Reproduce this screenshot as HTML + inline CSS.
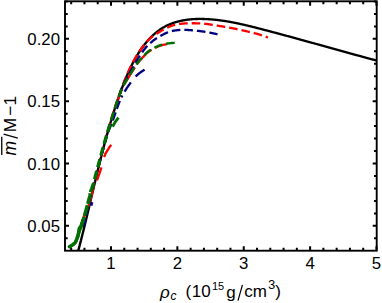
<!DOCTYPE html>
<html><head><meta charset="utf-8"><style>html,body{margin:0;padding:0;background:#fff}svg{display:block}text{font-family:"Liberation Sans",sans-serif;fill:#000}</style></head><body>
<svg width="382" height="303" viewBox="0 0 382 303">
<rect width="382" height="303" fill="#fff"/>
<defs><clipPath id="c"><rect x="65.00" y="1.30" width="311.70" height="249.40"/></clipPath></defs>
<g clip-path="url(#c)" fill="none" stroke-linejoin="round"><g transform="scale(1,0.9700)">
<path d="M78.29 258.35 L78.41 257.89 L78.53 257.43 L78.65 256.97 L78.77 256.50 L78.88 256.04 L79.00 255.58 L79.12 255.12 L79.24 254.66 L79.36 254.19 L79.47 253.73 L79.59 253.27 L79.71 252.81 L79.82 252.34 L79.94 251.88 L80.06 251.42 L80.17 250.96 L80.29 250.49 L80.40 250.03 L80.52 249.57 L80.63 249.11 L80.75 248.64 L80.86 248.18 L80.98 247.72 L81.09 247.25 L81.21 246.79 L81.32 246.33 L81.44 245.86 L81.55 245.40 L81.66 244.94 L81.78 244.47 L81.89 244.01 L82.00 243.55 L82.12 243.08 L82.23 242.62 L82.34 242.16 L82.45 241.69 L82.57 241.23 L82.68 240.77 L82.79 240.30 L82.90 239.84 L83.01 239.37 L83.13 238.91 L83.24 238.45 L83.35 237.98 L83.46 237.52 L83.57 237.05 L83.68 236.59 L83.79 236.12 L83.90 235.66 L84.02 235.20 L84.13 234.73 L84.24 234.27 L84.35 233.80 L84.46 233.34 L84.57 232.87 L84.68 232.41 L84.79 231.94 L84.90 231.48 L85.01 231.02 L85.12 230.55 L85.22 230.09 L85.33 229.62 L85.44 229.16 L85.55 228.69 L85.66 228.23 L85.77 227.76 L85.88 227.30 L85.99 226.83 L86.10 226.37 L86.20 225.90 L86.31 225.44 L86.42 224.97 L86.53 224.51 L86.64 224.04 L86.75 223.58 L86.85 223.11 L86.96 222.65 L87.07 222.18 L87.18 221.72 L87.28 221.25 L87.39 220.79 L87.50 220.32 L87.61 219.85 L87.72 219.39 L87.82 218.92 L87.93 218.46 L88.04 217.99 L88.14 217.53 L88.25 217.06 L88.36 216.60 L88.47 216.13 L88.57 215.67 L88.68 215.20 L88.79 214.73 L88.89 214.27 L89.00 213.80 L89.11 213.34 L89.21 212.87 L89.32 212.41 L89.43 211.94 L89.53 211.48 L89.64 211.01 L89.75 210.54 L89.85 210.08 L89.96 209.61 L90.07 209.15 L90.17 208.68 L90.28 208.22 L90.39 207.75 L90.49 207.28 L90.60 206.82 L90.70 206.35 L90.81 205.89 L90.92 205.42 L91.02 204.96 L91.13 204.49 L91.24 204.02 L91.34 203.56 L91.45 203.09 L91.56 202.63 L91.66 202.16 L91.77 201.70 L91.87 201.23 L91.98 200.76 L92.09 200.30 L92.19 199.83 L92.30 199.37 L92.41 198.90 L92.51 198.44 L92.62 197.97 L92.73 197.50 L92.83 197.04 L92.94 196.57 L93.05 196.11 L93.15 195.64 L93.26 195.18 L93.37 194.71 L93.47 194.25 L93.58 193.78 L93.69 193.31 L93.79 192.85 L93.90 192.38 L94.01 191.92 L94.11 191.45 L94.22 190.99 L94.33 190.52 L94.43 190.06 L94.54 189.59 L94.65 189.12 L94.76 188.66 L94.86 188.19 L94.97 187.73 L95.08 187.26 L95.19 186.80 L95.29 186.33 L95.40 185.87 L95.51 185.40 L95.62 184.94 L95.73 184.47 L95.83 184.01 L95.94 183.54 L96.05 183.08 L96.16 182.61 L96.27 182.15 L96.37 181.68 L96.48 181.22 L96.59 180.75 L96.70 180.29 L96.81 179.82 L96.92 179.36 L97.03 178.89 L97.14 178.43 L97.24 177.96 L97.35 177.50 L97.46 177.03 L97.57 176.57 L97.68 176.10 L97.79 175.64 L97.90 175.17 L98.01 174.71 L98.12 174.24 L98.23 173.78 L98.34 173.32 L98.45 172.85 L98.56 172.39 L98.67 171.92 L98.78 171.46 L98.89 170.99 L99.01 170.53 L99.12 170.07 L99.23 169.60 L99.34 169.14 L99.45 168.67 L99.56 168.21 L99.67 167.75 L99.79 167.28 L99.90 166.82 L100.01 166.35 L100.12 165.89 L100.24 165.43 L100.35 164.96 L100.46 164.50 L100.57 164.04 L100.69 163.57 L100.80 163.11 L100.91 162.65 L101.03 162.18 L101.14 161.72 L101.26 161.26 L101.37 160.79 L101.48 160.33 L101.60 159.87 L101.71 159.40 L101.83 158.94 L101.94 158.48 L102.06 158.01 L102.17 157.55 L102.29 157.09 L102.40 156.63 L102.52 156.16 L102.64 155.70 L102.75 155.24 L102.87 154.78 L102.99 154.31 L103.10 153.85 L103.22 153.39 L103.34 152.93 L103.45 152.46 L103.57 152.00 L103.69 151.54 L103.81 151.08 L103.93 150.62 L104.04 150.16 L104.16 149.69 L104.28 149.23 L104.40 148.77 L104.52 148.31 L104.64 147.85 L104.76 147.39 L104.88 146.92 L105.00 146.46 L105.12 146.00 L105.24 145.54 L105.36 145.08 L105.48 144.62 L105.61 144.16 L105.73 143.70 L105.85 143.24 L105.97 142.78 L106.09 142.32 L106.22 141.86 L106.34 141.40 L106.46 140.93 L106.58 140.47 L106.71 140.01 L106.83 139.55 L106.96 139.09 L107.08 138.63 L107.21 138.17 L107.33 137.72 L107.46 137.26 L107.58 136.80 L107.71 136.34 L107.83 135.88 L107.96 135.42 L108.09 134.96 L108.21 134.50 L108.34 134.04 L108.47 133.58 L108.59 133.12 L108.72 132.66 L108.85 132.21 L108.98 131.75 L109.11 131.29 L109.24 130.83 L109.37 130.37 L109.50 129.91 L109.62 129.46 L109.76 129.00 L109.89 128.54 L110.02 128.08 L110.15 127.62 L110.28 127.17 L110.41 126.71 L110.54 126.25 L110.67 125.79 L110.81 125.34 L110.94 124.88 L111.07 124.42 L111.21 123.97 L111.34 123.51 L111.48 123.05 L111.61 122.60 L111.74 122.14 L111.88 121.68 L112.02 121.23 L112.15 120.77 L112.29 120.31 L112.42 119.86 L112.56 119.40 L112.70 118.95 L112.84 118.49 L112.97 118.04 L113.11 117.58 L113.25 117.13 L113.39 116.67 L113.53 116.21 L113.67 115.76 L113.81 115.30 L113.95 114.85 L114.09 114.40 L114.23 113.94 L114.37 113.49 L114.51 113.03 L114.65 112.58 L114.80 112.12 L114.94 111.67 L115.08 111.22 L115.23 110.76 L115.37 110.31 L115.51 109.86 L115.66 109.40 L115.80 108.95 L115.95 108.50 L116.09 108.04 L116.24 107.59 L116.39 107.14 L116.53 106.69 L116.68 106.23 L116.83 105.78 L116.98 105.33 L117.13 104.88 L117.27 104.42 L117.42 103.97 L117.57 103.52 L117.72 103.07 L117.87 102.62 L118.03 102.17 L118.18 101.72 L118.33 101.26 L118.48 100.81 L118.63 100.36 L118.79 99.91 L118.94 99.46 L119.09 99.01 L119.25 98.56 L119.40 98.11 L119.56 97.66 L119.71 97.21 L119.87 96.76 L120.02 96.31 L120.18 95.86 L120.34 95.41 L120.50 94.96 L120.65 94.51 L120.81 94.07 L120.97 93.62 L121.13 93.17 L121.29 92.72 L121.45 92.27 L121.61 91.82 L121.77 91.38 L121.93 90.93 L122.10 90.48 L122.26 90.03 L122.42 89.59 L122.59 89.14 L122.75 88.69 L122.91 88.24 L123.08 87.80 L123.25 87.35 L123.41 86.91 L123.58 86.46 L123.75 86.01 L123.92 85.57 L124.08 85.12 L124.25 84.68 L124.42 84.23 L124.60 83.79 L124.77 83.35 L124.94 82.90 L125.11 82.46 L125.29 82.02 L125.46 81.57 L125.64 81.13 L125.81 80.69 L125.99 80.25 L126.17 79.80 L126.35 79.36 L126.53 78.92 L126.71 78.48 L126.89 78.04 L127.07 77.60 L127.25 77.16 L127.44 76.72 L127.62 76.28 L127.81 75.84 L128.00 75.41 L128.19 74.97 L128.37 74.53 L128.56 74.10 L128.75 73.66 L128.95 73.22 L129.14 72.79 L129.33 72.35 L129.53 71.92 L129.73 71.48 L129.92 71.05 L130.12 70.62 L130.32 70.18 L130.52 69.75 L130.72 69.32 L130.93 68.89 L131.13 68.46 L131.34 68.03 L131.54 67.60 L131.75 67.17 L131.96 66.74 L132.17 66.31 L132.38 65.89 L132.59 65.46 L132.81 65.03 L133.02 64.61 L133.24 64.18 L133.46 63.76 L133.68 63.33 L133.90 62.91 L134.12 62.49 L134.35 62.06 L134.57 61.64 L134.80 61.22 L135.02 60.80 L135.25 60.38 L135.48 59.96 L135.72 59.54 L135.95 59.12 L136.19 58.71 L136.42 58.29 L136.66 57.87 L136.90 57.46 L137.14 57.05 L137.38 56.63 L137.63 56.22 L137.88 55.81 L138.12 55.40 L138.37 54.99 L138.62 54.58 L138.87 54.17 L139.13 53.76 L139.38 53.36 L139.64 52.95 L139.90 52.55 L140.16 52.15 L140.42 51.74 L140.68 51.34 L140.95 50.95 L141.22 50.55 L141.48 50.15 L141.75 49.76 L142.03 49.36 L142.30 48.97 L142.57 48.58 L142.85 48.19 L143.13 47.80 L143.41 47.42 L143.69 47.03 L143.97 46.65 L144.26 46.27 L144.54 45.89 L144.83 45.51 L145.12 45.13 L145.41 44.76 L145.71 44.38 L146.00 44.01 L146.30 43.64 L146.60 43.28 L146.90 42.91 L147.20 42.55 L147.51 42.19 L147.81 41.83 L148.12 41.47 L148.43 41.11 L148.74 40.76 L149.05 40.41 L149.37 40.06 L149.68 39.71 L150.00 39.37 L150.32 39.03 L150.65 38.69 L150.97 38.35 L151.29 38.01 L151.62 37.68 L151.95 37.35 L152.28 37.02 L152.62 36.69 L152.95 36.37 L153.29 36.05 L153.63 35.73 L153.97 35.42 L154.31 35.10 L154.65 34.79 L155.00 34.49 L155.35 34.18 L155.70 33.88 L156.05 33.58 L156.41 33.28 L156.76 32.99 L157.12 32.70 L157.48 32.41 L157.84 32.13 L158.21 31.84 L158.57 31.56 L158.94 31.29 L159.31 31.02 L159.68 30.75 L160.05 30.48 L160.43 30.22 L160.81 29.96 L161.19 29.70 L161.57 29.44 L161.95 29.19 L162.34 28.95 L162.73 28.70 L163.12 28.46 L163.51 28.23 L163.90 27.99 L164.30 27.76 L164.70 27.54 L165.10 27.31 L165.50 27.09 L165.90 26.88 L166.31 26.66 L166.72 26.46 L167.13 26.25 L167.54 26.05 L167.96 25.85 L168.37 25.65 L168.79 25.46 L169.21 25.27 L169.63 25.09 L170.05 24.91 L170.48 24.73 L170.90 24.55 L171.33 24.38 L171.76 24.21 L172.19 24.05 L172.62 23.89 L173.06 23.73 L173.49 23.57 L173.93 23.42 L174.37 23.27 L174.81 23.13 L175.25 22.99 L175.69 22.85 L176.13 22.71 L176.58 22.58 L177.02 22.45 L177.47 22.32 L177.92 22.20 L178.37 22.08 L178.82 21.96 L179.27 21.84 L179.72 21.73 L180.17 21.62 L180.62 21.52 L181.08 21.42 L181.53 21.32 L181.99 21.22 L182.45 21.13 L182.91 21.04 L183.36 20.95 L183.82 20.87 L184.28 20.78 L184.74 20.70 L185.21 20.63 L185.67 20.55 L186.13 20.48 L186.59 20.42 L187.06 20.35 L187.52 20.29 L187.98 20.23 L188.45 20.17 L188.91 20.12 L189.38 20.07 L189.84 20.02 L190.31 19.97 L190.78 19.93 L191.24 19.89 L191.71 19.85 L192.18 19.81 L192.65 19.78 L193.11 19.74 L193.58 19.72 L194.05 19.69 L194.52 19.66 L194.99 19.64 L195.46 19.62 L195.92 19.60 L196.39 19.59 L196.86 19.57 L197.33 19.56 L197.80 19.55 L198.27 19.54 L198.74 19.54 L199.21 19.53 L199.68 19.53 L200.15 19.53 L200.62 19.53 L201.09 19.53 L201.55 19.54 L202.02 19.55 L202.49 19.56 L202.96 19.57 L203.43 19.58 L203.90 19.59 L204.37 19.61 L204.83 19.63 L205.30 19.65 L205.77 19.67 L206.24 19.69 L206.70 19.71 L207.17 19.74 L207.64 19.76 L208.10 19.79 L208.57 19.82 L209.03 19.85 L209.50 19.88 L209.96 19.91 L210.43 19.95 L210.89 19.99 L211.36 20.02 L211.82 20.06 L212.28 20.10 L212.75 20.14 L213.21 20.19 L213.67 20.23 L214.14 20.28 L214.60 20.32 L215.06 20.37 L215.52 20.42 L215.98 20.47 L216.45 20.52 L216.91 20.58 L217.37 20.63 L217.83 20.69 L218.29 20.74 L218.75 20.80 L219.21 20.86 L219.67 20.92 L220.13 20.98 L220.59 21.05 L221.05 21.11 L221.51 21.17 L221.96 21.24 L222.42 21.31 L222.88 21.38 L223.34 21.44 L223.80 21.52 L224.26 21.59 L224.71 21.66 L225.17 21.73 L225.63 21.81 L226.08 21.88 L226.54 21.96 L227.00 22.04 L227.45 22.12 L227.91 22.20 L228.37 22.28 L228.82 22.36 L229.28 22.44 L229.73 22.52 L230.19 22.61 L230.64 22.69 L231.10 22.78 L231.55 22.87 L232.01 22.95 L232.46 23.04 L232.92 23.13 L233.37 23.22 L233.82 23.31 L234.28 23.40 L234.73 23.50 L235.19 23.59 L235.64 23.69 L236.09 23.78 L236.55 23.88 L237.00 23.97 L237.45 24.07 L237.90 24.17 L238.36 24.27 L238.81 24.37 L239.26 24.47 L239.71 24.57 L240.17 24.67 L240.62 24.77 L241.07 24.87 L241.52 24.98 L241.97 25.08 L242.42 25.19 L242.88 25.29 L243.33 25.40 L243.78 25.50 L244.23 25.61 L244.68 25.72 L245.13 25.83 L245.58 25.93 L246.03 26.04 L246.48 26.15 L246.93 26.26 L247.38 26.37 L247.83 26.48 L248.28 26.60 L248.73 26.71 L249.18 26.82 L249.63 26.93 L250.08 27.05 L250.53 27.16 L250.98 27.27 L251.43 27.39 L251.88 27.50 L252.33 27.62 L252.78 27.73 L253.23 27.85 L253.68 27.97 L254.13 28.08 L254.58 28.20 L255.03 28.32 L255.47 28.43 L255.92 28.55 L256.37 28.67 L256.82 28.79 L257.27 28.91 L257.72 29.03 L258.17 29.14 L258.62 29.26 L259.06 29.38 L259.51 29.50 L259.96 29.62 L260.41 29.74 L260.86 29.86 L261.31 29.98 L261.76 30.10 L262.20 30.22 L262.65 30.34 L263.10 30.46 L263.55 30.58 L264.00 30.70 L264.45 30.82 L264.89 30.95 L265.34 31.07 L265.79 31.19 L266.24 31.31 L266.69 31.43 L267.13 31.55 L267.58 31.67 L268.03 31.79 L268.48 31.92 L268.93 32.04 L269.37 32.16 L269.82 32.28 L270.27 32.40 L270.72 32.53 L271.17 32.65 L271.61 32.77 L272.06 32.89 L272.51 33.02 L272.96 33.14 L273.41 33.26 L273.85 33.38 L274.30 33.51 L274.75 33.63 L275.20 33.75 L275.65 33.88 L276.09 34.00 L276.54 34.12 L276.99 34.25 L277.44 34.37 L277.88 34.49 L278.33 34.62 L278.78 34.74 L279.23 34.87 L279.67 34.99 L280.12 35.11 L280.57 35.24 L281.02 35.36 L281.46 35.49 L281.91 35.61 L282.36 35.74 L282.81 35.86 L283.25 35.98 L283.70 36.11 L284.15 36.23 L284.60 36.36 L285.04 36.48 L285.49 36.61 L285.94 36.73 L286.39 36.86 L286.83 36.98 L287.28 37.11 L287.73 37.23 L288.18 37.36 L288.62 37.49 L289.07 37.61 L289.52 37.74 L289.96 37.86 L290.41 37.99 L290.86 38.11 L291.31 38.24 L291.75 38.36 L292.20 38.49 L292.65 38.62 L293.10 38.74 L293.54 38.87 L293.99 39.00 L294.44 39.12 L294.88 39.25 L295.33 39.37 L295.78 39.50 L296.23 39.63 L296.67 39.75 L297.12 39.88 L297.57 40.01 L298.01 40.13 L298.46 40.26 L298.91 40.39 L299.35 40.51 L299.80 40.64 L300.25 40.77 L300.70 40.89 L301.14 41.02 L301.59 41.15 L302.04 41.27 L302.48 41.40 L302.93 41.53 L303.38 41.66 L303.82 41.78 L304.27 41.91 L304.72 42.04 L305.17 42.16 L305.61 42.29 L306.06 42.42 L306.51 42.55 L306.95 42.67 L307.40 42.80 L307.85 42.93 L308.29 43.06 L308.74 43.18 L309.19 43.31 L309.63 43.44 L310.08 43.57 L310.53 43.69 L310.98 43.82 L311.42 43.95 L311.87 44.08 L312.32 44.21 L312.76 44.33 L313.21 44.46 L313.66 44.59 L314.10 44.72 L314.55 44.84 L315.00 44.97 L315.44 45.10 L315.89 45.23 L316.34 45.36 L316.78 45.48 L317.23 45.61 L317.68 45.74 L318.12 45.87 L318.57 46.00 L319.02 46.12 L319.47 46.25 L319.91 46.38 L320.36 46.51 L320.81 46.64 L321.25 46.76 L321.70 46.89 L322.15 47.02 L322.59 47.15 L323.04 47.28 L323.49 47.40 L323.93 47.53 L324.38 47.66 L324.83 47.79 L325.27 47.92 L325.72 48.04 L326.17 48.17 L326.61 48.30 L327.06 48.43 L327.51 48.56 L327.95 48.69 L328.40 48.81 L328.85 48.94 L329.29 49.07 L329.74 49.20 L330.19 49.33 L330.64 49.45 L331.08 49.58 L331.53 49.71 L331.98 49.84 L332.42 49.97 L332.87 50.09 L333.32 50.22 L333.76 50.35 L334.21 50.48 L334.66 50.61 L335.10 50.73 L335.55 50.86 L336.00 50.99 L336.44 51.12 L336.89 51.25 L337.34 51.37 L337.79 51.50 L338.23 51.63 L338.68 51.76 L339.13 51.88 L339.57 52.01 L340.02 52.14 L340.47 52.27 L340.91 52.40 L341.36 52.52 L341.81 52.65 L342.25 52.78 L342.70 52.91 L343.15 53.03 L343.60 53.16 L344.04 53.29 L344.49 53.42 L344.94 53.54 L345.38 53.67 L345.83 53.80 L346.28 53.92 L346.72 54.05 L347.17 54.18 L347.62 54.31 L348.07 54.43 L348.51 54.56 L348.96 54.69 L349.41 54.81 L349.85 54.94 L350.30 55.07 L350.75 55.20 L351.20 55.32 L351.64 55.45 L352.09 55.58 L352.54 55.70 L352.98 55.83 L353.43 55.96 L353.88 56.08 L354.33 56.21 L354.77 56.34 L355.22 56.46 L355.67 56.59 L356.11 56.71 L356.56 56.84 L357.01 56.97 L357.46 57.09 L357.90 57.22 L358.35 57.35 L358.80 57.47 L359.25 57.60 L359.69 57.72 L360.14 57.85 L360.59 57.98 L361.04 58.10 L361.48 58.23 L361.93 58.35 L362.38 58.48 L362.83 58.60 L363.27 58.73 L363.72 58.85 L364.17 58.98 L364.62 59.10 L365.06 59.23 L365.51 59.35 L365.96 59.48 L366.41 59.60 L366.85 59.73 L367.30 59.85 L367.75 59.98 L368.20 60.10 L368.64 60.23 L369.09 60.35 L369.54 60.48 L369.99 60.60 L370.44 60.73 L370.88 60.85 L371.33 60.97 L371.78 61.10 L372.23 61.22 L372.67 61.35 L373.12 61.47 L373.57 61.59 L374.02 61.72 L374.47 61.84 L374.91 61.96 L375.36 62.09 L375.81 62.21 L376.26 62.33 L376.71 62.46" stroke="#000" stroke-width="2.40"/>
<path d="M79.81 236.03 L80.36 234.43 L80.90 232.83 L81.45 231.23 L81.98 229.61 L82.48 227.99 L82.97 226.37 L83.45 224.74 L83.92 223.11 L84.59 221.47 L85.30 219.83 L85.99 218.18 L86.67 216.53 L87.33 214.88 L87.97 213.22 L88.59 211.56 L89.20 209.91 L89.67 208.24 L90.06 206.58 L90.44 204.92 L90.83 203.26 L91.21 201.59 L91.58 199.93 L91.95 198.27 L92.34 196.61 L92.74 194.95 L93.14 193.30 L93.56 191.64 L93.96 189.99 L94.36 188.34 L94.75 186.70 L95.13 185.06 L95.51 183.42 L95.89 181.79 L96.28 180.16 L96.66 178.54 L97.05 176.93 L97.43 175.32 L97.82 173.71 L98.21 172.11 L98.59 170.52 L98.98 168.94 L99.37 167.36 L99.75 165.79 L100.14 164.23 L100.52 162.68 L100.91 161.13 L101.29 159.59 L101.67 158.06 L102.06 156.54 L102.44 155.03 L102.82 153.53 L103.20 152.03 L103.59 150.55 L103.97 149.07 L104.35 147.60 L104.73 146.15 L105.12 144.70 L105.50 143.26 L105.88 141.83 L106.27 140.41 L106.65 139.00 L107.03 137.60 L107.42 136.21 L107.80 134.83 L108.19 133.46 L108.57 132.10 L108.95 130.74 L109.33 129.40 L109.72 128.07 L110.10 126.75 L110.48 125.43 L110.86 124.13 L111.24 122.84 L111.62 121.55 L112.00 120.28 L112.38 119.01 L112.76 117.75 L113.14 116.51 L113.52 115.27 L113.90 114.04 L114.28 112.82 L114.66 111.61 L115.04 110.41 L115.42 109.22 L115.80 108.04 L116.18 106.86 L116.56 105.70 L116.94 104.54 L117.32 103.40 L117.69 102.26" stroke="#ff0000" stroke-width="2.40" stroke-dasharray="8.6 4.0" stroke-dashoffset="9.35"/>
<path d="M117.69 102.26 L118.07 101.13 L118.45 100.00 L118.83 98.89 L119.21 97.78 L119.59 96.69 L119.97 95.60 L120.35 94.52 L120.73 93.44 L121.11 92.38 L121.49 91.32 L121.87 90.27 L122.25 89.23 L122.63 88.20 L123.01 87.17 L123.39 86.16 L123.77 85.16 L124.15 84.17 L124.53 83.18 L124.91 82.21 L125.29 81.25 L125.67 80.30 L126.05 79.36 L126.43 78.43 L126.81 77.51 L127.19 76.60 L127.57 75.71 L127.95 74.82 L128.33 73.95 L128.71 73.09 L129.09 72.23 L129.47 71.39 L129.85 70.56 L130.23 69.74 L130.61 68.93 L130.99 68.13 L131.37 67.34 L131.75 66.56 L132.13 65.80 L132.51 65.04 L132.89 64.29 L133.27 63.55 L133.64 62.82 L134.02 62.10 L134.40 61.39 L134.78 60.69 L135.16 60.00 L135.54 59.32 L135.92 58.64 L136.30 57.98 L136.68 57.32 L137.06 56.67 L137.44 56.03 L137.82 55.40 L138.20 54.77 L138.58 54.16 L138.96 53.55 L139.34 52.95 L139.72 52.36 L140.11 51.78 L140.49 51.20 L140.88 50.64 L141.26 50.09 L141.65 49.54 L142.03 49.01 L142.42 48.48 L142.81 47.96 L143.19 47.45 L143.58 46.95 L143.96 46.46 L144.35 45.98 L144.73 45.50 L145.12 45.04 L145.50 44.58 L145.89 44.12 L146.27 43.68 L146.66 43.24 L147.05 42.81 L147.43 42.39 L147.82 41.97 L148.20 41.56 L148.59 41.16 L148.97 40.76 L149.36 40.37 L149.74 39.99 L150.13 39.61 L150.51 39.24 L150.90 38.89 L151.29 38.55 L151.67 38.22 L152.06 37.90 L152.44 37.59 L152.83 37.29 L153.21 37.00 L153.60 36.72 L153.98 36.44 L154.37 36.18 L154.75 35.91 L155.14 35.66 L155.53 35.41 L155.91 35.16 L156.30 34.92 L156.68 34.68 L157.07 34.44 L157.45 34.21 L157.84 33.97 L158.22 33.73 L158.61 33.50 L158.99 33.26 L159.38 33.02 L159.77 32.78 L160.15 32.54 L160.53 32.29 L160.91 32.04 L161.29 31.80 L161.67 31.56 L162.05 31.32 L162.43 31.09 L162.81 30.86 L163.19 30.64 L163.57 30.41 L163.95 30.20 L164.33 29.98 L164.71 29.77 L165.09 29.57 L165.46 29.37 L165.84 29.17 L166.22 28.98 L166.60 28.79 L166.98 28.60 L167.36 28.42 L167.74 28.24 L168.12 28.06 L168.50 27.89 L168.88 27.72 L169.26 27.56 L169.64 27.40 L170.02 27.24 L170.40 27.09 L170.78 26.94 L171.16 26.80 L171.54 26.66 L171.92 26.52 L172.30 26.39 L172.68 26.26 L173.06 26.14 L173.44 26.02 L173.82 25.91 L174.20 25.80 L174.58 25.70 L174.96 25.60 L175.34 25.51 L175.72 25.42 L176.10 25.33 L176.48 25.25 L176.86 25.17 L177.24 25.10 L177.62 25.03 L178.00 24.96 L178.38 24.90 L178.76 24.84 L179.14 24.78 L179.52 24.73 L179.90 24.68 L180.28 24.63 L180.66 24.58 L181.04 24.53 L181.41 24.49 L181.79 24.45 L182.17 24.41 L182.55 24.37 L182.93 24.33 L183.31 24.29 L183.69 24.26 L184.07 24.22 L184.45 24.19 L184.83 24.16 L185.21 24.13 L185.59 24.10 L185.97 24.08 L186.35 24.05 L186.73 24.03 L187.11 24.01 L187.49 24.00 L187.87 23.98 L188.25 23.97 L188.63 23.96 L189.01 23.95 L189.39 23.94 L189.77 23.94 L190.15 23.93 L190.53 23.93 L190.91 23.93 L191.29 23.93 L191.67 23.93 L192.05 23.93 L192.43 23.93 L192.81 23.94 L193.19 23.94 L193.57 23.95 L193.95 23.96 L194.33 23.96 L194.71 23.97 L195.09 23.98 L195.47 23.99 L195.85 24.01 L196.23 24.02 L196.61 24.03 L196.98 24.04 L197.36 24.06 L197.74 24.07 L198.12 24.09 L198.50 24.10 L198.88 24.12 L199.26 24.13 L199.64 24.15 L200.02 24.17 L200.40 24.19 L200.78 24.21 L201.16 24.23 L201.54 24.26 L201.92 24.28 L202.30 24.30 L202.68 24.33 L203.06 24.36 L203.44 24.39 L203.82 24.42 L204.20 24.45 L204.58 24.49 L204.96 24.52 L205.34 24.56 L205.72 24.60 L206.10 24.64 L206.48 24.68 L206.86 24.73 L207.24 24.77 L207.62 24.82 L208.00 24.88 L208.38 24.94 L208.76 25.00 L209.14 25.07 L209.52 25.13 L209.90 25.20 L210.28 25.27 L210.66 25.35 L211.04 25.42 L211.42 25.49 L211.80 25.57 L212.18 25.64 L212.56 25.72 L212.93 25.79 L213.31 25.86 L213.69 25.93 L214.07 26.00 L214.45 26.07 L214.83 26.13 L215.21 26.19 L215.59 26.25 L215.97 26.30 L216.35 26.35 L216.73 26.40 L217.11 26.46 L217.49 26.51 L217.87 26.56 L218.25 26.62 L218.63 26.68 L219.01 26.73 L219.39 26.79 L219.77 26.85 L220.15 26.91 L220.53 26.96 L220.91 27.02 L221.29 27.08 L221.67 27.15 L222.05 27.21 L222.43 27.27 L222.81 27.33 L223.19 27.40 L223.57 27.46 L223.95 27.52 L224.33 27.59 L224.71 27.65 L225.09 27.72 L225.47 27.79 L225.85 27.85 L226.23 27.92 L226.61 27.99 L226.99 28.06 L227.37 28.13 L227.75 28.20 L228.13 28.27 L228.51 28.34 L228.88 28.41 L229.26 28.48 L229.64 28.56 L230.02 28.63 L230.40 28.70 L230.78 28.78 L231.16 28.85 L231.54 28.93 L231.92 29.00 L232.30 29.08 L232.68 29.15 L233.06 29.23 L233.44 29.31 L233.82 29.38 L234.20 29.46 L234.58 29.54 L234.96 29.62 L235.34 29.70 L235.72 29.78 L236.10 29.86 L236.48 29.94 L236.86 30.02 L237.24 30.10 L237.62 30.18 L238.00 30.26 L238.38 30.35 L238.76 30.43 L239.14 30.51 L239.52 30.60 L239.90 30.68 L240.28 30.76 L240.66 30.85 L241.04 30.94 L241.42 31.02 L241.80 31.11 L242.18 31.20 L242.56 31.28 L242.94 31.37 L243.32 31.46 L243.70 31.55 L244.08 31.64 L244.45 31.73 L244.83 31.82 L245.21 31.91 L245.59 32.00 L245.97 32.09 L246.35 32.18 L246.73 32.27 L247.11 32.36 L247.49 32.46 L247.87 32.55 L248.25 32.64 L248.63 32.74 L249.01 32.83 L249.39 32.92 L249.77 33.02 L250.15 33.11 L250.53 33.21 L250.91 33.30 L251.29 33.40 L251.67 33.50 L252.05 33.59 L252.43 33.69 L252.81 33.79 L253.19 33.88 L253.57 33.98 L253.95 34.08 L254.33 34.18 L254.71 34.28 L255.09 34.38 L255.47 34.48 L255.85 34.57 L256.23 34.68 L256.61 34.78 L256.99 34.89 L257.37 35.00 L257.75 35.11 L258.13 35.22 L258.51 35.34 L258.89 35.46 L259.27 35.58 L259.65 35.70 L260.03 35.82 L260.40 35.95 L260.78 36.08 L261.16 36.20 L261.54 36.33 L261.92 36.47 L262.30 36.60 L262.68 36.73 L263.06 36.87 L263.44 37.00 L263.82 37.14 L264.20 37.27 L264.58 37.41 L264.96 37.55 L265.34 37.69 L265.72 37.83 L266.10 37.96 L266.48 38.10 L266.86 38.24 L267.24 38.38 L267.62 38.52 L268.00 38.66" stroke="#ff0000" stroke-width="2.40" stroke-dasharray="8.6 4.0" stroke-dashoffset="9.26"/>
<path d="M79.82 236.00 L80.25 234.76 L80.68 233.51 L81.10 232.27 L81.52 231.01 L81.94 229.76 L82.33 228.50 L82.72 227.23 L83.09 225.97 L83.47 224.70 L83.84 223.43 L84.29 222.15 L84.85 220.87 L85.41 219.59 L85.95 218.31 L86.47 217.03 L86.99 215.74 L87.50 214.45 L88.00 213.17 L88.49 211.88 L88.96 210.58 L89.44 209.29 L89.74 208.00 L90.04 206.71 L90.34 205.41 L90.64 204.12 L90.94 202.82 L91.23 201.53 L91.52 200.24 L91.81 198.94 L92.11 197.65 L92.41 196.36 L92.72 195.07 L93.04 193.78 L93.36 192.49 L93.68 191.21 L94.00 189.92 L94.31 188.64 L94.61 187.36 L94.91 186.08 L95.21 184.81 L95.51 183.53 L95.80 182.26 L96.10 181.00 L96.40 179.73 L96.70 178.47 L97.00 177.22 L97.30 175.96 L97.60 174.71 L97.90 173.47 L98.21 172.23 L98.51 170.99 L98.81 169.76 L99.11 168.53 L99.41 167.30 L99.71 166.08 L100.02 164.87 L100.32 163.66 L100.63 162.45 L100.93 161.25 L101.23 160.05 L101.54 158.86 L101.84 157.68 L102.15 156.50 L102.45 155.32 L102.75 154.15 L103.06 152.99 L103.36 151.83 L103.66 150.68 L103.97 149.53 L104.27 148.39 L104.57 147.25 L104.87 146.12 L105.18 145.00 L105.48 143.88 L105.79 142.77 L106.09 141.66 L106.39 140.56 L106.70 139.47 L107.00 138.38 L107.31 137.29 L107.61 136.22 L107.91 135.15 L108.22 134.08 L108.52 133.02 L108.82 131.97 L109.13 130.92 L109.43 129.88 L109.73 128.84 L110.04 127.82 L110.34 126.79 L110.64 125.77 L110.94 124.76 L111.24 123.76 L111.54 122.76 L111.85 121.76 L112.15 120.77 L112.45 119.79 L112.75 118.82 L113.05 117.85 L113.35 116.88 L113.65 115.92 L113.95 114.97 L114.25 114.02 L114.55 113.08 L114.85 112.14 L115.16 111.21 L115.46 110.28 L115.76 109.36 L116.06 108.45 L116.36 107.54 L116.66 106.64 L116.96 105.74 L117.26 104.85 L117.56 103.96 L117.86 103.08" stroke="#ff0000" stroke-width="2.40" stroke-dasharray="8.6 4.0" stroke-dashoffset="8.74"/>
<path d="M117.86 103.08 L118.16 102.20 L118.46 101.33 L118.75 100.46 L119.05 99.60 L119.35 98.74 L119.64 97.89 L119.94 97.05 L120.23 96.20 L120.53 95.37 L120.83 94.54 L121.12 93.71 L121.42 92.93 L121.71 92.20 L122.01 91.51 L122.31 90.85 L122.60 90.22 L122.90 89.63 L123.19 89.05 L123.49 88.50 L123.79 87.96 L124.08 87.43 L124.38 86.90 L124.67 86.37 L124.97 85.84 L125.27 85.30 L125.56 84.75 L125.86 84.21 L126.15 83.69 L126.45 83.17 L126.75 82.67 L127.04 82.17 L127.34 81.68 L127.63 81.19 L127.93 80.70 L128.23 80.21 L128.52 79.73 L128.82 79.24 L129.11 78.74 L129.41 78.24 L129.71 77.75 L130.00 77.26 L130.30 76.78 L130.59 76.29 L130.89 75.81 L131.19 75.34 L131.48 74.86 L131.78 74.39 L132.07 73.91 L132.37 73.44 L132.67 72.97 L132.96 72.50 L133.26 72.03 L133.55 71.55 L133.85 71.08 L134.15 70.61 L134.44 70.14 L134.74 69.67 L135.03 69.21 L135.33 68.75 L135.63 68.29 L135.92 67.83 L136.22 67.38 L136.51 66.94 L136.81 66.50 L137.11 66.06 L137.40 65.63 L137.70 65.21 L137.99 64.80 L138.29 64.39 L138.59 63.99 L138.88 63.61 L139.18 63.23 L139.47 62.86 L139.77 62.50 L140.07 62.14 L140.36 61.80 L140.66 61.45 L140.95 61.12 L141.25 60.79 L141.55 60.46 L141.84 60.14 L142.14 59.81 L142.43 59.49 L142.73 59.17 L143.03 58.85 L143.32 58.53 L143.62 58.21 L143.91 57.89 L144.21 57.57 L144.51 57.25 L144.80 56.94 L145.10 56.62 L145.39 56.31 L145.69 56.00 L145.98 55.70 L146.28 55.40 L146.58 55.11 L146.87 54.82 L147.17 54.54 L147.46 54.27 L147.76 54.00 L148.06 53.75 L148.35 53.50 L148.65 53.27 L148.94 53.05 L149.24 52.83 L149.54 52.63 L149.83 52.43 L150.13 52.24 L150.42 52.05 L150.72 51.87 L151.02 51.70 L151.31 51.53 L151.61 51.36 L151.90 51.19 L152.20 51.03 L152.50 50.86 L152.79 50.70 L153.09 50.53 L153.38 50.36 L153.68 50.20 L153.98 50.03 L154.27 49.86 L154.57 49.70 L154.86 49.54 L155.16 49.38 L155.46 49.22 L155.75 49.06 L156.05 48.91 L156.34 48.76 L156.64 48.61 L156.94 48.47 L157.23 48.33 L157.53 48.19 L157.82 48.06 L158.12 47.93 L158.42 47.81 L158.71 47.69 L159.01 47.57 L159.30 47.46 L159.60 47.35 L159.90 47.25 L160.19 47.15 L160.49 47.05 L160.78 46.96 L161.08 46.87 L161.38 46.78 L161.67 46.69 L161.97 46.61 L162.26 46.53 L162.56 46.45 L162.86 46.38 L163.15 46.30 L163.45 46.23 L163.74 46.16 L164.04 46.09 L164.34 46.02 L164.63 45.96 L164.93 45.89 L165.22 45.83 L165.52 45.77 L165.82 45.71 L166.11 45.65 L166.41 45.59 L166.70 45.54 L167.00 45.48" stroke="#ff0000" stroke-width="2.40" stroke-dasharray="21.0 4.0" stroke-dashoffset="8.27"/>
<path d="M79.64 236.51 L79.72 236.28 L79.80 236.05 L79.88 235.82 L79.96 235.59 L80.04 235.36 L80.12 235.13 L80.20 234.90 L80.28 234.67 L80.36 234.44 L80.43 234.21 L80.51 233.98 L80.59 233.75 L80.67 233.52 L80.75 233.29 L80.83 233.06 L80.91 232.83 L80.98 232.59 L81.06 232.36 L81.14 232.13 L81.22 231.90 L81.30 231.67 L81.38 231.44 L81.46 231.20 L81.53 230.97 L81.61 230.74 L81.69 230.51 L81.76 230.27 L81.84 230.04 L81.91 229.81 L81.99 229.57 L82.06 229.34 L82.14 229.11 L82.21 228.87 L82.28 228.64 L82.35 228.41 L82.42 228.17 L82.50 227.94 L82.57 227.71 L82.64 227.47 L82.71 227.24 L82.78 227.00 L82.85 226.77 L82.92 226.54 L82.99 226.30 L83.06 226.07 L83.13 225.83 L83.20 225.60 L83.27 225.36 L83.34 225.13 L83.40 224.89 L83.47 224.66 L83.54 224.42 L83.61 224.19 L83.68 223.95 L83.75 223.71 L83.82 223.48 L83.88 223.24 L83.95 223.01 L84.02 222.77 L84.11 222.53 L84.22 222.30 L84.32 222.06 L84.43 221.83 L84.53 221.59 L84.64 221.35 L84.74 221.12 L84.84 220.88 L84.95 220.64 L85.05 220.41 L85.15 220.17 L85.25 219.93 L85.35 219.69 L85.46 219.46 L85.56 219.22 L85.66 218.98 L85.76 218.74 L85.86 218.51 L85.95 218.27 L86.05 218.03 L86.15 217.79 L86.25 217.56 L86.35 217.32 L86.44 217.08 L86.54 216.84 L86.64 216.60 L86.73 216.37 L86.83 216.13 L86.93 215.89 L87.02 215.65 L87.12 215.41 L87.21 215.18 L87.30 214.94 L87.40 214.70 L87.49 214.46 L87.58 214.22 L87.68 213.98 L87.77 213.74 L87.87 213.51 L87.96 213.27 L88.06 213.03 L88.15 212.79 L88.25 212.55 L88.34 212.31 L88.44 212.07 L88.53 211.83 L88.62 211.59 L88.72 211.35 L88.81 211.12 L88.90 210.88 L89.00 210.64 L89.09 210.40 L89.18 210.16 L89.27 209.92 L89.36 209.68 L89.46 209.44 L89.54 209.20 L89.59 208.96 L89.65 208.72 L89.71 208.48 L89.77 208.24 L89.83 208.00 L89.89 207.76 L89.95 207.52 L90.00 207.28 L90.06 207.04 L90.12 206.80 L90.18 206.57 L90.24 206.33 L90.30 206.09 L90.36 205.85 L90.41 205.61 L90.47 205.37 L90.53 205.13 L90.59 204.89 L90.65 204.65 L90.70 204.41 L90.76 204.17 L90.82 203.93 L90.88 203.69 L90.94 203.45 L90.99 203.21 L91.05 202.97 L91.11 202.73 L91.17 202.49 L91.22 202.25 L91.28 202.01 L91.34 201.77 L91.40 201.53 L91.45 201.29 L91.51 201.05 L91.57 200.81 L91.62 200.57 L91.68 200.33 L91.73 200.09 L91.79 199.85 L91.85 199.61 L91.90 199.37 L91.96 199.13 L92.02 198.89 L92.07 198.65 L92.13 198.42 L92.19 198.18 L92.24 197.94 L92.30 197.70 L92.36 197.46 L92.42 197.22 L92.48 196.98 L92.54 196.74 L92.60 196.50 L92.66 196.26 L92.72 196.03 L92.78 195.80 L92.84 195.57 L92.90 195.35 L92.96 195.13 L93.02 194.92 L93.08 194.72 L93.14 194.51 L93.20 194.32 L93.26 194.12 L93.32 193.93 L93.38 193.75 L93.45 193.57 L93.51 193.39 L93.57 193.21 L93.63 193.04 L93.69 192.88 L93.75 192.71 L93.81 192.55 L93.87 192.40 L93.93 192.24 L93.99 192.09 L94.05 191.95 L94.11 191.80" stroke="#ff0000" stroke-width="2.40" stroke-dasharray="8.6 4.0" stroke-dashoffset="1.32"/>
<path d="M96.90 185.97 L96.96 185.83 L97.01 185.70 L97.07 185.56 L97.12 185.42 L97.18 185.27 L97.23 185.12 L97.29 184.97 L97.34 184.82 L97.40 184.66 L97.45 184.51 L97.51 184.35 L97.56 184.19 L97.62 184.03 L97.67 183.87 L97.73 183.71 L97.78 183.55 L97.84 183.39 L97.89 183.24 L97.95 183.08 L98.00 182.92 L98.06 182.76 L98.11 182.61 L98.17 182.45 L98.22 182.29 L98.28 182.14 L98.33 181.98 L98.39 181.82 L98.44 181.67 L98.50 181.51 L98.55 181.35 L98.61 181.19 L98.66 181.04 L98.72 180.88 L98.77 180.72 L98.83 180.56 L98.88 180.40 L98.94 180.25 L98.99 180.09 L99.05 179.93 L99.10 179.77 L99.16 179.61 L99.21 179.45 L99.27 179.28 L99.32 179.12 L99.38 178.96 L99.43 178.79 L99.49 178.63 L99.54 178.47 L99.60 178.30 L99.65 178.13 L99.71 177.97 L99.76 177.80 L99.82 177.63 L99.88 177.46 L99.93 177.29 L99.99 177.12 L100.04 176.94 L100.10 176.77 L100.15 176.60 L100.21 176.42 L100.26 176.24 L100.32 176.06 L100.37 175.89 L100.43 175.70 L100.49 175.52 L100.54 175.34 L100.60 175.15 L100.65 174.97 L100.71 174.78 L100.76 174.59 L100.82 174.40 L100.87 174.21 L100.93 174.02 L100.99 173.82 L101.04 173.63 L101.10 173.43 L101.15 173.23 L101.21 173.03 L101.26 172.83 L101.32 172.62" stroke="#ff0000" stroke-width="2.40"/>
<path d="M104.15 162.08 L104.21 161.89 L104.26 161.70 L104.32 161.51 L104.37 161.33 L104.43 161.15 L104.49 160.97 L104.54 160.80 L104.60 160.64 L104.65 160.47 L104.71 160.32 L104.76 160.16 L104.82 160.01 L104.87 159.86 L104.93 159.72 L104.98 159.58 L105.04 159.44 L105.09 159.31 L105.15 159.18 L105.20 159.05 L105.26 158.92 L105.31 158.80 L105.37 158.68 L105.42 158.56 L105.48 158.45 L105.53 158.33 L105.59 158.22 L105.64 158.12 L105.70 158.01 L105.75 157.91 L105.81 157.80 L105.86 157.70 L105.92 157.60 L105.97 157.51 L106.03 157.41 L106.08 157.32 L106.14 157.22 L106.19 157.13 L106.25 157.04 L106.30 156.95 L106.36 156.86 L106.41 156.77 L106.47 156.69 L106.52 156.60 L106.58 156.51 L106.63 156.43 L106.69 156.34 L106.74 156.26 L106.80 156.17 L106.85 156.09 L106.91 156.00 L106.96 155.92 L107.02 155.83 L107.07 155.74 L107.13 155.66 L107.18 155.57 L107.24 155.48 L107.29 155.39 L107.35 155.31 L107.40 155.21 L107.46 155.12 L107.51 155.03 L107.57 154.94 L107.62 154.84 L107.67 154.75 L107.73 154.65 L107.78 154.55 L107.84 154.45 L107.89 154.35 L107.95 154.25 L108.00 154.16 L108.06 154.06 L108.11 153.97 L108.17 153.87 L108.22 153.78 L108.28 153.68 L108.33 153.59 L108.39 153.49 L108.44 153.40 L108.50 153.31 L108.55 153.22 L108.61 153.12 L108.66 153.03 L108.72 152.94 L108.77 152.85 L108.83 152.76 L108.88 152.67 L108.94 152.59 L108.99 152.50 L109.05 152.41 L109.10 152.32 L109.16 152.24 L109.21 152.15 L109.27 152.06 L109.32 151.98 L109.38 151.89 L109.43 151.81 L109.49 151.72 L109.54 151.64 L109.60 151.56 L109.65 151.48 L109.71 151.39 L109.76 151.31 L109.82 151.23 L109.87 151.15 L109.93 151.07 L109.98 150.99 L110.04 150.91 L110.09 150.83 L110.15 150.75 L110.20 150.68 L110.26 150.60 L110.31 150.52 L110.37 150.44 L110.42 150.37 L110.48 150.29 L110.53 150.22 L110.59 150.14 L110.64 150.07 L110.70 149.99 L110.75 149.92 L110.81 149.85 L110.86 149.77 L110.92 149.70 L110.97 149.63 L111.03 149.56 L111.08 149.49 L111.14 149.42 L111.19 149.35 L111.24 149.28" stroke="#ff0000" stroke-width="2.40"/>
<path d="M82.72 236.13 L83.04 234.96 L83.36 233.79 L83.69 232.61 L84.01 231.43 L84.33 230.25 L84.65 229.07 L84.96 227.88 L85.27 226.69 L85.57 225.49 L85.88 224.30 L86.18 223.10 L86.39 221.90 L86.56 220.69 L86.72 219.49 L86.90 218.28 L87.08 217.07 L87.27 215.86 L87.45 214.65 L87.65 213.43 L87.86 212.22 L88.17 211.00 L88.47 209.78 L88.78 208.56 L89.09 207.35 L89.40 206.13 L89.70 204.91 L89.99 203.69 L90.28 202.47 L90.55 201.25 L90.79 200.03 L91.04 198.81 L91.31 197.59 L91.63 196.37 L91.99 195.16 L92.38 193.94 L92.79 192.73 L93.19 191.52 L93.59 190.30 L93.96 189.09 L94.29 187.89 L94.59 186.68 L94.89 185.48 L95.18 184.28 L95.46 183.08 L95.75 181.88 L96.04 180.69 L96.33 179.50 L96.63 178.31 L96.93 177.12 L97.24 175.94 L97.54 174.76 L97.85 173.59 L98.16 172.41 L98.48 171.24 L98.79 170.08 L99.10 168.92 L99.40 167.76 L99.71 166.61 L100.01 165.46 L100.31 164.31 L100.60 163.17 L100.90 162.04 L101.19 160.90 L101.49 159.78 L101.78 158.65 L102.07 157.53 L102.36 156.42 L102.66 155.31 L102.95 154.20 L103.24 153.10 L103.53 152.01 L103.82 150.92 L104.11 149.83 L104.40 148.75 L104.69 147.68 L104.98 146.61 L105.27 145.54 L105.56 144.48 L105.86 143.43 L106.15 142.38 L106.44 141.33 L106.74 140.29 L107.03 139.26 L107.33 138.23 L107.62 137.20 L107.92 136.18 L108.21 135.17 L108.51 134.16 L108.80 133.16 L109.09 132.16 L109.39 131.17 L109.68 130.18 L109.97 129.20 L110.26 128.22 L110.53 127.25 L110.81 126.28 L111.09 125.32 L111.36 124.36 L111.63 123.41 L111.90 122.47 L112.17 121.52 L112.44 120.59 L112.71 119.66 L112.98 118.73 L113.25 117.81 L113.52 116.90 L113.79 115.98 L114.06 115.08 L114.33 114.18 L114.60 113.28 L114.87 112.39 L115.14 111.51 L115.41 110.62 L115.68 109.75 L115.95 108.88 L116.22 108.01 L116.49 107.15 L116.76 106.29 L117.03 105.44 L117.30 104.59 L117.57 103.75 L117.84 102.91" stroke="#00007f" stroke-width="2.40" stroke-dasharray="8.6 4.0" stroke-dashoffset="10.08"/>
<path d="M117.84 102.91 L118.11 102.08 L118.38 101.25 L118.65 100.42 L118.92 99.60 L119.19 98.79 L119.46 97.98 L119.73 97.17 L120.01 96.37 L120.28 95.57 L120.56 94.79 L120.84 94.03 L121.12 93.28 L121.40 92.54 L121.68 91.81 L121.95 91.10 L122.23 90.39 L122.51 89.70 L122.79 89.02 L123.07 88.36 L123.35 87.70 L123.63 87.05 L123.90 86.42 L124.18 85.79 L124.46 85.18 L124.74 84.57 L125.02 83.97 L125.30 83.38 L125.58 82.80 L125.85 82.23 L126.13 81.67 L126.41 81.11 L126.69 80.57 L126.97 80.02 L127.25 79.49 L127.53 78.96 L127.80 78.44 L128.08 77.92 L128.36 77.41 L128.64 76.90 L128.92 76.39 L129.20 75.89 L129.48 75.40 L129.75 74.90 L130.03 74.41 L130.31 73.92 L130.59 73.43 L130.87 72.95 L131.15 72.46 L131.43 71.98 L131.70 71.49 L131.98 71.01 L132.26 70.52 L132.54 70.03 L132.82 69.54 L133.10 69.05 L133.38 68.56 L133.65 68.06 L133.93 67.56 L134.21 67.06 L134.49 66.55 L134.77 66.04 L135.05 65.52 L135.33 65.01 L135.60 64.51 L135.88 64.01 L136.16 63.51 L136.44 63.02 L136.72 62.53 L137.00 62.05 L137.28 61.57 L137.55 61.10 L137.83 60.63 L138.11 60.16 L138.39 59.70 L138.67 59.25 L138.95 58.79 L139.23 58.35 L139.50 57.90 L139.78 57.46 L140.06 57.03 L140.34 56.60 L140.62 56.17 L140.90 55.75 L141.18 55.33 L141.45 54.91 L141.73 54.50 L142.01 54.10 L142.29 53.69 L142.57 53.30 L142.85 52.90 L143.13 52.51 L143.40 52.13 L143.68 51.74 L143.96 51.37 L144.24 50.99 L144.52 50.62 L144.80 50.26 L145.08 49.90 L145.35 49.55 L145.63 49.21 L145.91 48.88 L146.19 48.55 L146.47 48.23 L146.75 47.92 L147.03 47.61 L147.30 47.31 L147.58 47.02 L147.86 46.73 L148.14 46.44 L148.42 46.17 L148.70 45.89 L148.97 45.62 L149.25 45.36 L149.53 45.09 L149.81 44.84 L150.09 44.58 L150.37 44.33 L150.65 44.08 L150.92 43.83 L151.20 43.59 L151.48 43.35 L151.76 43.11 L152.04 42.87 L152.32 42.63 L152.60 42.39 L152.87 42.16 L153.15 41.93 L153.43 41.70 L153.71 41.48 L153.99 41.26 L154.27 41.05 L154.55 40.83 L154.82 40.62 L155.10 40.42 L155.38 40.22 L155.66 40.02 L155.94 39.82 L156.22 39.63 L156.50 39.43 L156.77 39.25 L157.05 39.06 L157.33 38.88 L157.61 38.70 L157.89 38.52 L158.17 38.34 L158.45 38.17 L158.72 38.00 L159.00 37.83 L159.28 37.66 L159.56 37.50 L159.84 37.34 L160.12 37.18 L160.40 37.02 L160.67 36.86 L160.95 36.71 L161.23 36.55 L161.51 36.40 L161.79 36.25 L162.07 36.10 L162.35 35.96 L162.62 35.81 L162.90 35.67 L163.18 35.52 L163.46 35.38 L163.74 35.24 L164.02 35.10 L164.30 34.96 L164.57 34.82 L164.85 34.68 L165.13 34.55 L165.41 34.41 L165.69 34.28 L165.97 34.15 L166.25 34.02 L166.52 33.89 L166.80 33.76 L167.08 33.64 L167.36 33.52 L167.64 33.40 L167.92 33.28 L168.20 33.17 L168.47 33.06 L168.75 32.95 L169.03 32.85 L169.31 32.75 L169.59 32.65 L169.87 32.56 L170.15 32.46 L170.42 32.38 L170.70 32.30 L170.98 32.22 L171.26 32.15 L171.54 32.08 L171.82 32.01 L172.10 31.95 L172.37 31.89 L172.65 31.83 L172.93 31.78 L173.21 31.72 L173.49 31.67 L173.77 31.62 L174.05 31.58 L174.32 31.53 L174.60 31.49 L174.88 31.45 L175.16 31.41 L175.44 31.37 L175.72 31.33 L175.99 31.29 L176.27 31.25 L176.55 31.22 L176.83 31.18 L177.11 31.14 L177.39 31.11 L177.67 31.08 L177.94 31.05 L178.22 31.02 L178.50 30.99 L178.78 30.96 L179.06 30.93 L179.34 30.91 L179.62 30.89 L179.89 30.86 L180.17 30.84 L180.45 30.82 L180.73 30.81 L181.01 30.79 L181.29 30.78 L181.57 30.76 L181.84 30.75 L182.12 30.74 L182.40 30.73 L182.68 30.73 L182.96 30.72 L183.24 30.72 L183.52 30.72 L183.79 30.72 L184.07 30.72 L184.35 30.73 L184.63 30.74 L184.91 30.75 L185.19 30.76 L185.47 30.77 L185.74 30.78 L186.02 30.80 L186.30 30.81 L186.58 30.83 L186.86 30.85 L187.14 30.86 L187.42 30.88 L187.69 30.90 L187.97 30.92 L188.25 30.94 L188.53 30.96 L188.81 30.98 L189.09 31.00 L189.37 31.02 L189.64 31.03 L189.92 31.05 L190.20 31.07 L190.48 31.09 L190.76 31.11 L191.04 31.13 L191.32 31.15 L191.59 31.17 L191.87 31.19 L192.15 31.22 L192.43 31.24 L192.71 31.26 L192.99 31.29 L193.27 31.31 L193.54 31.33 L193.82 31.36 L194.10 31.39 L194.38 31.41 L194.66 31.44 L194.94 31.47 L195.22 31.49 L195.49 31.52 L195.77 31.55 L196.05 31.58 L196.33 31.61 L196.61 31.64 L196.89 31.67 L197.17 31.71 L197.44 31.74 L197.72 31.77 L198.00 31.80 L198.28 31.84 L198.56 31.87 L198.84 31.91 L199.12 31.94 L199.39 31.98 L199.67 32.02 L199.95 32.06 L200.23 32.09 L200.51 32.13 L200.79 32.17 L201.07 32.21 L201.34 32.25 L201.62 32.29 L201.90 32.33 L202.18 32.37 L202.46 32.41 L202.74 32.45 L203.02 32.49 L203.29 32.54 L203.57 32.58 L203.85 32.62 L204.13 32.66 L204.41 32.71 L204.69 32.75 L204.96 32.80 L205.24 32.84 L205.52 32.89 L205.80 32.94 L206.08 32.99 L206.36 33.03 L206.64 33.08 L206.91 33.13 L207.19 33.18 L207.47 33.23 L207.75 33.28 L208.03 33.34 L208.31 33.39 L208.59 33.44 L208.86 33.49 L209.14 33.55 L209.42 33.60 L209.70 33.65 L209.98 33.71 L210.26 33.76 L210.54 33.82 L210.81 33.88 L211.09 33.93 L211.37 33.99 L211.65 34.05 L211.93 34.11 L212.21 34.16 L212.49 34.22 L212.76 34.28 L213.04 34.34 L213.32 34.40 L213.60 34.46 L213.88 34.52 L214.16 34.59 L214.44 34.65 L214.71 34.71 L214.99 34.77 L215.27 34.84 L215.55 34.90 L215.83 34.97 L216.11 35.03 L216.39 35.10 L216.66 35.16 L216.94 35.23 L217.22 35.29 L217.50 35.36" stroke="#00007f" stroke-width="2.40" stroke-dasharray="8.6 4.0" stroke-dashoffset="8.26"/>
<path d="M82.58 236.60 L82.62 236.46 L82.66 236.32 L82.70 236.19 L82.74 236.05 L82.78 235.91 L82.82 235.77 L82.86 235.64 L82.89 235.50 L82.93 235.36 L82.97 235.22 L83.01 235.09 L83.05 234.95 L83.08 234.81 L83.12 234.67 L83.16 234.54 L83.20 234.40 L83.23 234.26 L83.27 234.12 L83.31 233.99 L83.35 233.85 L83.39 233.71 L83.42 233.58 L83.46 233.44 L83.50 233.30 L83.54 233.16 L83.58 233.03 L83.61 232.89 L83.65 232.75 L83.69 232.61 L83.73 232.48 L83.76 232.34 L83.80 232.20 L83.84 232.06 L83.88 231.93 L83.92 231.79 L83.95 231.65 L83.99 231.51 L84.03 231.38 L84.07 231.24 L84.10 231.10 L84.14 230.96 L84.18 230.83 L84.21 230.69 L84.25 230.55 L84.29 230.41 L84.33 230.28 L84.36 230.14 L84.40 230.00 L84.44 229.87 L84.47 229.73 L84.51 229.59 L84.55 229.45 L84.58 229.32 L84.62 229.18 L84.66 229.04 L84.69 228.90 L84.73 228.77 L84.76 228.63 L84.80 228.49 L84.84 228.35 L84.87 228.22 L84.91 228.08 L84.94 227.94 L84.98 227.80 L85.01 227.67 L85.05 227.53 L85.09 227.39 L85.12 227.25 L85.16 227.12 L85.19 226.98 L85.23 226.84 L85.26 226.71 L85.30 226.57 L85.33 226.43 L85.37 226.29 L85.40 226.16 L85.44 226.02 L85.47 225.88 L85.51 225.74 L85.55 225.61 L85.58 225.47 L85.62 225.33 L85.65 225.19 L85.69 225.06 L85.72 224.92 L85.76 224.78 L85.79 224.64 L85.83 224.51 L85.86 224.37 L85.90 224.23 L85.93 224.09 L85.97 223.96 L86.00 223.82 L86.04 223.68 L86.07 223.54 L86.10 223.41 L86.14 223.27 L86.17 223.13 L86.21 223.00 L86.24 222.86 L86.28 222.72 L86.30 222.58 L86.32 222.45 L86.34 222.31 L86.36 222.17 L86.37 222.03 L86.39 221.90 L86.41 221.76 L86.43 221.62 L86.45 221.48 L86.47 221.35 L86.48 221.21 L86.50 221.07 L86.52 220.93 L86.54 220.80 L86.56 220.66 L86.58 220.52 L86.60 220.38 L86.62 220.25 L86.64 220.11 L86.66 219.97 L86.67 219.84 L86.69 219.70 L86.71 219.56 L86.73 219.42 L86.75 219.29 L86.77 219.15 L86.79 219.01 L86.81 218.87 L86.83 218.74 L86.85 218.60 L86.87 218.46 L86.89 218.32 L86.91 218.19 L86.93 218.05 L86.95 217.91 L86.97 217.77 L86.99 217.64 L87.01 217.50 L87.04 217.36 L87.06 217.22 L87.08 217.09 L87.10 216.95 L87.12 216.81 L87.14 216.67 L87.16 216.54 L87.18 216.40 L87.20 216.26 L87.22 216.13 L87.25 215.99 L87.27 215.85 L87.29 215.71 L87.31 215.58 L87.33 215.44 L87.35 215.30 L87.37 215.16 L87.40 215.03 L87.42 214.89 L87.44 214.75 L87.46 214.61 L87.48 214.48 L87.50 214.34 L87.53 214.20 L87.55 214.06 L87.57 213.93 L87.59 213.79 L87.61 213.65 L87.63 213.51 L87.66 213.38 L87.68 213.24 L87.70 213.10 L87.72 212.97 L87.74 212.83 L87.77 212.69 L87.79 212.55 L87.81 212.42 L87.84 212.28 L87.88 212.14 L87.91 212.00 L87.95 211.87 L87.98 211.73 L88.02 211.59 L88.05 211.45 L88.09 211.32 L88.12 211.18 L88.16 211.04 L88.19 210.90 L88.22 210.77 L88.26 210.63 L88.29 210.49 L88.33 210.35 L88.36 210.22 L88.40 210.08 L88.43 209.94 L88.47 209.80 L88.50 209.67 L88.54 209.53 L88.57 209.39 L88.61 209.26 L88.64 209.12 L88.68 208.98 L88.71 208.84 L88.75 208.71 L88.78 208.57 L88.82 208.43 L88.85 208.29 L88.89 208.16 L88.92 208.02 L88.96 207.88 L88.99 207.74 L89.03 207.61 L89.06 207.47 L89.10 207.33 L89.13 207.19 L89.16 207.06 L89.20 206.92 L89.23 206.78 L89.27 206.64 L89.30 206.51 L89.34 206.37 L89.37 206.23 L89.40 206.10 L89.44 205.96 L89.47 205.82 L89.51 205.68 L89.54 205.55 L89.57 205.41 L89.61 205.27 L89.64 205.13 L89.67 205.00 L89.71 204.86 L89.74 204.72 L89.78 204.58 L89.81 204.45 L89.84 204.31 L89.87 204.17 L89.91 204.03 L89.94 203.90 L89.97 203.76 L90.01 203.62 L90.04 203.48 L90.07 203.35 L90.10 203.21 L90.14 203.07 L90.17 202.94 L90.20 202.80 L90.23 202.66 L90.26 202.52 L90.30 202.39 L90.33 202.25 L90.36 202.11 L90.39 201.97 L90.42 201.84 L90.45 201.70 L90.48 201.56 L90.51 201.42 L90.54 201.29 L90.57 201.15 L90.60 201.01 L90.62 200.87 L90.65 200.74 L90.68 200.60 L90.71 200.46 L90.73 200.32 L90.76 200.19 L90.79 200.05 L90.82 199.91 L90.84 199.77 L90.87 199.64 L90.90 199.50 L90.92 199.36 L90.95 199.23 L90.98 199.09 L91.01 198.95 L91.04 198.81 L91.07 198.68 L91.09 198.54 L91.12 198.40 L91.15 198.26 L91.18 198.13 L91.22 197.99 L91.25 197.85 L91.28 197.71 L91.31 197.58 L91.35 197.44 L91.38 197.30 L91.42 197.16 L91.45 197.03 L91.49 196.89 L91.52 196.75 L91.56 196.61 L91.60 196.48 L91.64 196.34 L91.68 196.20 L91.72 196.07 L91.76 195.93 L91.80 195.79 L91.84 195.65 L91.88 195.52 L91.92 195.38 L91.97 195.24 L92.01 195.10 L92.05 194.97 L92.09 194.83 L92.14 194.69 L92.18 194.55 L92.23 194.42 L92.27 194.28 L92.32 194.14 L92.36 194.00 L92.41 193.87 L92.45 193.73 L92.50 193.59 L92.54 193.45 L92.59 193.32 L92.63 193.18 L92.68 193.04 L92.73 192.90 L92.77 192.77 L92.82 192.63 L92.87 192.49 L92.91 192.36 L92.96 192.22 L93.00 192.08 L93.05 191.94 L93.10 191.81 L93.14 191.67 L93.19 191.53 L93.23 191.39 L93.28 191.26 L93.32 191.12 L93.37 190.98 L93.42 190.84 L93.46 190.71 L93.50 190.57 L93.55 190.43 L93.59 190.29 L93.64 190.16 L93.68 190.02 L93.72 189.88 L93.76 189.74 L93.81 189.61 L93.85 189.47 L93.89 189.33 L93.93 189.20 L93.97 189.06 L94.01 188.92 L94.05 188.78 L94.09 188.65 L94.13 188.51 L94.17 188.37 L94.20 188.23 L94.24 188.10 L94.28 187.96 L94.31 187.82 L94.35 187.68 L94.38 187.55 L94.41 187.41 L94.45 187.27 L94.48 187.13 L94.52 187.00 L94.55 186.86 L94.58 186.72 L94.62 186.58 L94.65 186.45 L94.68 186.31 L94.72 186.17 L94.75 186.03 L94.78 185.90 L94.82 185.76 L94.85 185.62 L94.88 185.49 L94.92 185.35 L94.95 185.21 L94.98 185.07 L95.02 184.94 L95.05 184.80 L95.08 184.66 L95.12 184.52 L95.15 184.39 L95.18 184.25 L95.22 184.11 L95.25 183.97 L95.28 183.84 L95.31 183.70 L95.35 183.56 L95.38 183.42 L95.41 183.29 L95.45 183.15 L95.48 183.01 L95.51 182.87 L95.55 182.74 L95.58 182.60 L95.61 182.46 L95.64 182.33 L95.68 182.19 L95.71 182.05 L95.74 181.91 L95.78 181.78 L95.81 181.64 L95.84 181.50 L95.88 181.36 L95.91 181.23 L95.94 181.09 L95.98 180.95 L96.01 180.81 L96.04 180.68 L96.08 180.54 L96.11 180.40 L96.14 180.26 L96.18 180.13 L96.21 179.99 L96.25 179.85 L96.28 179.71 L96.31 179.58 L96.35 179.44 L96.38 179.30 L96.42 179.16 L96.45 179.03 L96.48 178.89 L96.52 178.75 L96.55 178.62 L96.59 178.48 L96.62 178.34 L96.66 178.20 L96.69 178.07 L96.73 177.93 L96.76 177.79 L96.80 177.65 L96.83 177.52 L96.87 177.38 L96.90 177.24 L96.94 177.10 L96.97 176.97 L97.01 176.83 L97.04 176.69 L97.08 176.55 L97.11 176.42 L97.15 176.28 L97.18 176.14 L97.22 176.00 L97.26 175.87 L97.29 175.73 L97.33 175.59 L97.36 175.46 L97.40 175.32 L97.43 175.18 L97.47 175.04 L97.51 174.91 L97.54 174.77 L97.58 174.63 L97.61 174.49 L97.65 174.36 L97.69 174.22 L97.72 174.08 L97.76 173.94 L97.80 173.81 L97.83 173.67 L97.87 173.53 L97.90 173.39 L97.94 173.26 L97.98 173.12 L98.01 172.98 L98.05 172.84 L98.09 172.71 L98.12 172.57 L98.16 172.43 L98.20 172.29 L98.23 172.16 L98.27 172.02 L98.31 171.88 L98.34 171.75 L98.38 171.61 L98.42 171.47 L98.45 171.33 L98.49 171.20 L98.53 171.06 L98.56 170.92 L98.60 170.78 L98.63 170.65 L98.67 170.51 L98.71 170.37 L98.74 170.23 L98.78 170.10 L98.82 169.96 L98.85 169.82 L98.89 169.68 L98.93 169.55 L98.96 169.41 L99.00 169.27 L99.04 169.13 L99.07 169.00 L99.11 168.86 L99.15 168.72 L99.18 168.59 L99.22 168.45 L99.26 168.31 L99.29 168.17 L99.33 168.04 L99.37 167.90 L99.40 167.76 L99.44 167.62 L99.48 167.49 L99.51 167.35 L99.55 167.21 L99.58 167.07 L99.62 166.94 L99.66 166.80 L99.69 166.66 L99.73 166.52 L99.77 166.39 L99.80 166.25 L99.84 166.11 L99.87 165.97 L99.91 165.84 L99.95 165.70 L99.98 165.56 L100.02 165.42 L100.05 165.29 L100.09 165.15 L100.12 165.01 L100.16 164.88 L100.20 164.74 L100.23 164.60 L100.27 164.46 L100.30 164.33 L100.34 164.19 L100.37 164.05 L100.41 163.91 L100.45 163.78 L100.48 163.64 L100.52 163.50 L100.55 163.36 L100.59 163.23 L100.62 163.09 L100.66 162.95 L100.70 162.81 L100.73 162.68 L100.77 162.54 L100.80 162.40 L100.84 162.26 L100.87 162.13 L100.91 161.99 L100.95 161.85 L100.98 161.72 L101.02 161.58 L101.05 161.44 L101.09 161.30 L101.12 161.17 L101.16 161.03 L101.20 160.89 L101.23 160.75 L101.27 160.62 L101.30 160.48 L101.34 160.34 L101.37 160.20 L101.41 160.07 L101.45 159.93 L101.48 159.79 L101.52 159.65 L101.55 159.52 L101.59 159.38 L101.63 159.24 L101.66 159.10 L101.70 158.97 L101.73 158.83 L101.77 158.69 L101.80 158.55 L101.84 158.42 L101.88 158.28 L101.91 158.14 L101.95 158.01 L101.98 157.87 L102.02 157.73 L102.06 157.59 L102.09 157.46 L102.13 157.32 L102.16 157.18 L102.20 157.04 L102.24 156.91 L102.27 156.77 L102.31 156.63 L102.34 156.49 L102.38 156.36 L102.42 156.22 L102.45 156.08 L102.49 155.94 L102.52 155.81 L102.56 155.67 L102.60 155.53 L102.63 155.39 L102.67 155.26 L102.70 155.12 L102.74 154.98 L102.78 154.85 L102.81 154.71 L102.85 154.57 L102.89 154.43 L102.92 154.30 L102.96 154.16 L102.99 154.02 L103.03 153.88 L103.07 153.75 L103.10 153.61 L103.14 153.47 L103.18 153.33 L103.21 153.20 L103.25 153.06 L103.29 152.92 L103.32 152.78 L103.36 152.65 L103.39 152.51 L103.43 152.37 L103.47 152.23 L103.50 152.10 L103.54 151.96 L103.58 151.82 L103.61 151.68 L103.65 151.55 L103.69 151.41 L103.72 151.27 L103.76 151.14 L103.80 151.00 L103.83 150.86 L103.87 150.72 L103.91 150.59 L103.94 150.45 L103.98 150.31 L104.02 150.17 L104.05 150.04 L104.09 149.90 L104.13 149.76 L104.16 149.62 L104.20 149.49 L104.24 149.35 L104.28 149.21 L104.31 149.07 L104.35 148.94 L104.39 148.80 L104.42 148.66 L104.46 148.52 L104.50 148.39 L104.53 148.25 L104.57 148.11 L104.61 147.98 L104.65 147.84 L104.68 147.70 L104.72 147.56 L104.76 147.43 L104.80 147.29 L104.83 147.15 L104.87 147.01 L104.91 146.88 L104.94 146.74 L104.98 146.60 L105.02 146.46 L105.06 146.33 L105.09 146.19 L105.13 146.05 L105.17 145.91 L105.21 145.78 L105.24 145.64 L105.28 145.50 L105.32 145.36 L105.36 145.23 L105.40 145.09 L105.43 144.95 L105.47 144.81 L105.51 144.68 L105.55 144.54 L105.58 144.40 L105.62 144.27 L105.66 144.13 L105.70 143.99 L105.74 143.85 L105.77 143.72 L105.81 143.58 L105.85 143.44 L105.89 143.30 L105.93 143.17 L105.97 143.03 L106.00 142.89 L106.04 142.75 L106.08 142.62 L106.12 142.48 L106.16 142.34 L106.20 142.20 L106.24 142.07 L106.27 141.93 L106.31 141.79 L106.35 141.65 L106.39 141.52 L106.43 141.38 L106.47 141.24 L106.51 141.11 L106.55 140.97 L106.58 140.83 L106.62 140.69 L106.66 140.56 L106.70 140.42 L106.74 140.28 L106.78 140.14 L106.82 140.01 L106.86 139.87 L106.90 139.73 L106.94 139.59 L106.98 139.46 L107.01 139.32 L107.05 139.18 L107.09 139.04 L107.13 138.91 L107.17 138.77 L107.22 138.63 L107.26 138.49 L107.30 138.36 L107.35 138.22 L107.39 138.08 L107.43 137.94 L107.48 137.81 L107.53 137.67 L107.57 137.53 L107.62 137.40 L107.67 137.26 L107.71 137.12 L107.76 136.98 L107.81 136.85 L107.86 136.71 L107.91 136.57 L107.96 136.43 L108.01 136.30 L108.06 136.16 L108.11 136.02 L108.17 135.88 L108.22 135.75 L108.27 135.61 L108.32 135.47 L108.38 135.33 L108.43 135.20 L108.48 135.06 L108.54 134.92 L108.59 134.78 L108.65 134.65 L108.70 134.51 L108.76 134.37 L108.81 134.24 L108.87 134.10 L108.92 133.96 L108.98 133.82 L109.03 133.69 L109.09 133.55 L109.14 133.41 L109.20 133.27 L109.26 133.14 L109.31 133.00 L109.37 132.86 L109.43 132.72 L109.48 132.59 L109.54 132.45 L109.59 132.31 L109.65 132.17 L109.71 132.04 L109.76 131.90 L109.82 131.76 L109.88 131.62 L109.93 131.49 L109.99 131.35 L110.04 131.21 L110.10 131.07 L110.16 130.94 L110.21 130.80 L110.27 130.66 L110.32 130.53 L110.38 130.39 L110.43 130.25 L110.48 130.11 L110.54 129.98 L110.59 129.84 L110.65 129.70 L110.70 129.56 L110.75 129.43 L110.80 129.29 L110.86 129.15 L110.91 129.01 L110.96 128.88 L111.01 128.74 L111.06 128.60 L111.12 128.46 L111.17 128.33 L111.22 128.19 L111.27 128.05 L111.32 127.91 L111.37 127.78 L111.43 127.64 L111.48 127.50 L111.53 127.37 L111.58 127.23 L111.63 127.09 L111.69 126.95 L111.74 126.82 L111.79 126.68 L111.84 126.54 L111.89 126.40 L111.94 126.27 L112.00 126.13 L112.05 125.99 L112.10 125.85 L112.15 125.72 L112.20 125.58 L112.26 125.44 L112.31 125.30 L112.36 125.17 L112.41 125.03 L112.46 124.89 L112.51 124.75 L112.56 124.62 L112.61 124.48 L112.67 124.34 L112.72 124.20 L112.77 124.07 L112.82 123.93 L112.87 123.79 L112.92 123.66 L112.97 123.52 L113.02 123.38 L113.07 123.24 L113.12 123.11 L113.17 122.97 L113.22 122.83 L113.27 122.69 L113.32 122.56 L113.37 122.42 L113.42 122.28 L113.46 122.14 L113.51 122.01 L113.56 121.87 L113.61 121.73 L113.66 121.59 L113.71 121.46 L113.75 121.32 L113.80 121.18 L113.85 121.04 L113.90 120.91 L113.94 120.77 L113.99 120.63 L114.04 120.50 L114.08 120.36 L114.13 120.22 L114.18 120.08 L114.22 119.95 L114.27 119.81 L114.32 119.67 L114.36 119.53 L114.41 119.40 L114.46 119.26 L114.50 119.12 L114.55 118.98 L114.59 118.85 L114.64 118.71 L114.69 118.57 L114.73 118.43 L114.78 118.30 L114.82 118.16 L114.87 118.02 L114.91 117.88 L114.96 117.75 L115.00 117.61 L115.05 117.47 L115.10 117.33 L115.14 117.20 L115.19 117.06 L115.23 116.92 L115.28 116.79 L115.32 116.65 L115.37 116.51 L115.41 116.37 L115.46 116.24 L115.51 116.10 L115.55 115.96 L115.60 115.82 L115.64 115.69 L115.69 115.55 L115.73 115.41 L115.78 115.27 L115.82 115.14 L115.87 115.00 L115.92 114.86 L115.96 114.72 L116.01 114.59 L116.05 114.45 L116.10 114.31 L116.14 114.17 L116.19 114.04 L116.24 113.90 L116.28 113.76 L116.33 113.63 L116.37 113.49 L116.42 113.35 L116.47 113.21 L116.51 113.08 L116.56 112.94 L116.61 112.80 L116.65 112.66 L116.70 112.53 L116.75 112.39 L116.79 112.25 L116.84 112.11 L116.89 111.98 L116.94 111.84 L116.98 111.70 L117.03 111.56 L117.08 111.43 L117.13 111.29 L117.17 111.15 L117.22 111.01 L117.27 110.88 L117.32 110.74 L117.37 110.60 L117.41 110.46 L117.46 110.33 L117.51 110.19 L117.56 110.05 L117.61 109.92 L117.66 109.78 L117.71 109.64 L117.76 109.50 L117.80 109.37 L117.85 109.23 L117.90 109.09 L117.95 108.95 L118.00 108.82 L118.05 108.68 L118.10 108.54 L118.15 108.40 L118.20 108.27 L118.25 108.13 L118.30 107.99 L118.35 107.85 L118.40 107.72 L118.44 107.58 L118.49 107.44 L118.54 107.30 L118.59 107.17 L118.64 107.03 L118.69 106.89 L118.75 106.76 L118.80 106.62 L118.85 106.48 L118.90 106.34 L118.95 106.21 L119.00 106.07 L119.05 105.93 L119.10 105.79 L119.15 105.66 L119.20 105.52 L119.26 105.38 L119.31 105.24 L119.36 105.11 L119.41 104.97 L119.46 104.83 L119.52 104.69 L119.57 104.56 L119.62 104.42 L119.67 104.28 L119.73 104.14 L119.78 104.01 L119.83 103.87 L119.89 103.73 L119.94 103.60 L120.00 103.46 L120.05 103.32 L120.11 103.18 L120.16 103.05 L120.22 102.91 L120.27 102.77 L120.33 102.63 L120.38 102.50 L120.44 102.36 L120.49 102.22 L120.55 102.08 L120.61 101.95 L120.67 101.81 L120.72 101.67 L120.78 101.53 L120.84 101.40 L120.91 101.26 L120.97 101.12 L121.03 100.98 L121.10 100.85 L121.16 100.71 L121.22 100.57 L121.29 100.43 L121.36 100.30 L121.42 100.16 L121.49 100.02 L121.56 99.89 L121.63 99.75 L121.70 99.61 L121.77 99.47 L121.84 99.34 L121.91 99.20 L121.99 99.06 L122.06 98.92 L122.13 98.79 L122.21 98.65 L122.28 98.51" stroke="#00007f" stroke-width="2.40" stroke-dasharray="8.6 4.0" stroke-dashoffset="9.20"/>
<path d="M124.55 94.53 L124.63 94.39 L124.70 94.25 L124.78 94.11 L124.86 93.98 L124.95 93.84 L125.03 93.70 L125.11 93.56 L125.19 93.43 L125.27 93.29 L125.35 93.15 L125.44 93.02 L125.52 92.88 L125.60 92.74 L125.69 92.60 L125.77 92.47 L125.85 92.33 L125.94 92.19 L126.02 92.05 L126.11 91.92 L126.20 91.78 L126.28 91.64 L126.37 91.50 L126.45 91.37 L126.54 91.23 L126.63 91.09 L126.72 90.95 L126.80 90.82 L126.89 90.68 L126.98 90.54 L127.07 90.40 L127.16 90.27 L127.25 90.13 L127.34 89.99 L127.43 89.86 L127.52 89.72 L127.61 89.58 L127.70 89.44 L127.79 89.31 L127.88 89.17 L127.97 89.03 L128.06 88.89 L128.15 88.76 L128.25 88.62 L128.34 88.48 L128.43 88.34 L128.52 88.21 L128.62 88.07 L128.71 87.93 L128.80 87.79 L128.90 87.66 L128.99 87.52 L129.09 87.38 L129.18 87.24 L129.28 87.11 L129.37 86.97 L129.47 86.83 L129.56 86.69 L129.66 86.56 L129.76 86.42 L129.85 86.28 L129.95 86.15 L130.05 86.01 L130.14 85.87 L130.24 85.73 L130.34 85.60 L130.44 85.46 L130.53 85.32 L130.63 85.18 L130.73 85.05 L130.83 84.91" stroke="#00007f" stroke-width="2.40"/>
<path d="M135.60 78.86 L135.73 78.73 L135.86 78.59 L136.00 78.45 L136.13 78.31 L136.27 78.18 L136.41 78.04 L136.55 77.90 L136.70 77.76 L136.84 77.63 L136.99 77.49 L137.14 77.35 L137.30 77.21 L137.45 77.08 L137.61 76.94 L137.76 76.80 L137.92 76.66 L138.08 76.53 L138.25 76.39 L138.41 76.25 L138.58 76.12 L138.74 75.98 L138.91 75.84 L139.08 75.70 L139.25 75.57 L139.42 75.43 L139.60 75.29 L139.77 75.15 L139.95 75.02 L140.12 74.88 L140.30 74.74 L140.48 74.60 L140.66 74.47 L140.85 74.33 L141.04 74.19 L141.23 74.05 L141.42 73.92 L141.62 73.78 L141.82 73.64 L142.02 73.50 L142.23 73.37 L142.43 73.23 L142.64 73.09 L142.85 72.95 L143.06 72.82 L143.28 72.68 L143.49 72.54 L143.71 72.41 L143.93 72.27 L144.15 72.13 L144.38 71.99 L144.60 71.86" stroke="#00007f" stroke-width="2.40"/>
<path d="M91.00 212.06 L92.00 208.45" stroke="#00007f" stroke-width="2.90"/>
<path d="M69.30 254.54 L69.63 254.31 L69.96 254.10 L70.30 253.88 L70.64 253.67 L70.99 253.45 L71.34 253.24 L71.68 253.02 L72.03 252.80 L72.37 252.58 L72.71 252.35 L73.04 252.11 L73.36 251.86 L73.67 251.60 L73.98 251.33 L74.27 251.05 L74.54 250.75 L74.81 250.43 L75.05 250.10 L75.28 249.75 L75.49 249.39 L75.69 249.02 L75.88 248.64 L76.06 248.26 L76.23 247.88 L76.38 247.49 L76.54 247.11 L76.68 246.74 L76.82 246.38 L76.96 246.03 L77.10 245.69 L77.23 245.36 L77.36 245.03 L77.49 244.69 L77.62 244.35 L77.74 244.00 L77.85 243.62 L77.97 243.23 L78.07 242.81 L78.18 242.35 L78.28 241.86 L78.37 241.33 L78.46 240.75 L78.54 240.13 L78.62 239.48 L78.70 238.83 L78.78 238.17 L78.87 237.53 L78.96 236.91 L79.05 236.34 L79.16 235.83 L79.27 235.38 L79.40 235.02 L79.54 234.75 L79.70 234.60 L79.87 234.56 L80.07 234.67 L80.29 234.93 L80.33 235.40 L80.38 235.27 L80.42 235.13 L80.47 234.99 L80.51 234.86 L80.56 234.72 L80.61 234.59 L80.65 234.45 L80.70 234.31 L80.75 234.18 L80.79 234.04 L80.84 233.90 L80.88 233.77 L80.93 233.63 L80.98 233.49 L81.02 233.36 L81.07 233.22 L81.12 233.08 L81.16 232.94 L81.21 232.81 L81.26 232.67 L81.31 232.53 L81.35 232.40 L81.40 232.26 L81.45 232.12 L81.49 231.98 L81.54 231.85 L81.58 231.71 L81.63 231.57 L81.68 231.44 L81.72 231.30 L81.77 231.16 L81.82 231.02 L81.86 230.88 L81.91 230.75 L81.95 230.61 L82.00 230.47 L82.04 230.33 L82.09 230.20 L82.13 230.06 L82.18 229.92 L82.22 229.78 L82.27 229.64 L82.31 229.51 L82.35 229.37 L82.40 229.23 L82.44 229.09 L82.48 228.95 L82.53 228.82 L82.57 228.68 L82.61 228.54 L82.65 228.40 L82.70 228.26 L82.74 228.12 L82.78 227.98 L82.82 227.85 L82.87 227.71 L82.91 227.57 L82.95 227.43 L82.99 227.29 L83.03 227.15 L83.08 227.01 L83.12 226.88 L83.16 226.74 L83.20 226.60 L83.24 226.46 L83.28 226.32" stroke="#007000" stroke-width="3.30" stroke-linecap="round"/>
<path d="M112.60 130.52 L114.00 127.94 L115.40 125.57 L116.90 123.40 L118.50 121.34" stroke="#007000" stroke-width="2.90"/>
<path d="M69.30 254.54 L69.74 254.25 L70.18 253.97 L70.64 253.68 L71.10 253.40 L71.56 253.11 L72.02 252.81 L72.47 252.50 L72.91 252.18 L73.34 251.85 L73.76 251.51 L74.15 251.14 L74.52 250.76 L74.87 250.35 L75.19 249.92 L75.48 249.46 L75.75 248.99 L75.99 248.50 L76.22 248.00 L76.43 247.49 L76.62 246.97 L76.81 246.45 L76.99 245.93 L77.16 245.40 L77.32 244.88 L77.48 244.36 L77.64 243.83 L77.79 243.31 L77.94 242.79 L78.09 242.26 L78.23 241.74 L78.38 241.21 L78.52 240.69 L78.67 240.16 L78.82 239.63 L78.96 239.11 L79.12 238.58 L79.27 238.05 L79.43 237.53 L79.59 237.01 L79.76 236.49 L79.93 235.97 L80.11 235.46 L80.54 234.79 L80.99 233.45 L81.45 232.11 L81.90 230.76 L82.34 229.41 L82.76 228.05 L83.17 226.70 L83.58 225.33 L83.97 223.97 L84.37 222.60 L84.76 221.23 L85.14 219.85 L85.53 218.48 L85.91 217.10 L86.29 215.72 L86.67 214.33 L87.04 212.95 L87.41 211.56 L87.77 210.17 L88.13 208.78 L88.48 207.39 L88.84 206.00 L89.18 204.61 L89.52 203.22 L89.84 201.83 L90.12 200.44 L90.39 199.05 L90.69 197.66 L91.07 196.27 L91.50 194.88" stroke="#007000" stroke-width="3.50" stroke-dasharray="11.20 1.40" stroke-dashoffset="1.14"/>
<path d="M91.50 194.88 L91.98 193.50 L92.47 192.11 L92.95 190.73 L93.41 189.35 L93.81 187.97 L94.15 186.60 L94.49 185.22 L94.82 183.85 L95.15 182.49 L95.48 181.12 L95.82 179.76 L96.16 178.41 L96.51 177.06 L96.86 175.71 L97.22 174.37 L97.58 173.03 L97.94 171.69 L98.30 170.36 L98.66 169.04 L99.01 167.72 L99.37 166.40 L99.71 165.09 L100.06 163.79 L100.40 162.49 L100.74 161.19 L101.08 159.91 L101.41 158.63 L101.75 157.35 L102.08 156.08 L102.42 154.82 L102.75 153.56 L103.09 152.31 L103.42 151.06 L103.75 149.82 L104.09 148.59 L104.42 147.37 L104.76 146.15 L105.09 144.94 L105.43 143.73 L105.76 142.53 L106.10 141.34 L106.44 140.15 L106.78 138.97 L107.12 137.80 L107.46 136.64 L107.80 135.48 L108.14 134.33 L108.48 133.18 L108.82 132.04 L109.15 130.91 L109.49 129.79 L109.82 128.67" stroke="#007000" stroke-width="3.40" stroke-dasharray="8.60 4.00" stroke-dashoffset="1.90"/>
<path d="M109.82 128.67 L110.15 127.56 L110.47 126.45 L110.80 125.36 L111.12 124.27 L111.44 123.18 L111.75 122.10 L112.07 121.03 L112.39 119.97 L112.71 118.91 L113.03 117.86 L113.34 116.82 L113.66 115.78 L113.98 114.75 L114.30 113.72 L114.61 112.70 L114.93 111.69 L115.25 110.69 L115.57 109.69 L115.89 108.69 L116.20 107.71 L116.52 106.73 L116.84 105.75 L117.16 104.78 L117.47 103.82 L117.79 102.87 L118.11 101.91 L118.43 100.97 L118.74 100.03 L119.06 99.10 L119.38 98.17 L119.70 97.25 L120.02 96.34 L120.33 95.43 L120.65 94.52 L120.97 93.62 L121.29 92.75 L121.60 91.94 L121.92 91.18 L122.24 90.46 L122.56 89.78 L122.88 89.14 L123.19 88.53 L123.51 87.93 L123.83 87.35 L124.15 86.79 L124.46 86.23 L124.78 85.66 L125.10 85.09 L125.42 84.50 L125.73 83.92 L126.05 83.35 L126.37 82.80 L126.69 82.25 L127.01 81.71 L127.32 81.18 L127.64 80.66 L127.96 80.14 L128.28 79.62 L128.59 79.09 L128.91 78.56 L129.23 78.03 L129.55 77.50 L129.87 76.97" stroke="#007000" stroke-width="2.70" stroke-dasharray="8.60 4.00" stroke-dashoffset="7.61"/>
<path d="M129.87 76.97 L130.18 76.45 L130.50 75.93 L130.82 75.41 L131.14 74.90 L131.45 74.39 L131.77 73.88 L132.09 73.37 L132.41 72.87 L132.72 72.36 L133.04 71.85 L133.36 71.35 L133.68 70.84 L134.00 70.33 L134.31 69.83 L134.63 69.33 L134.95 68.83 L135.27 68.33 L135.58 67.84 L135.90 67.35 L136.22 66.86 L136.54 66.38 L136.86 65.91 L137.17 65.45 L137.49 64.99 L137.81 64.54 L138.13 64.10 L138.44 63.67 L138.76 63.25 L139.08 62.84 L139.40 62.44 L139.71 62.05 L140.03 61.67 L140.35 61.29 L140.67 60.93 L140.99 60.57 L141.30 60.21 L141.62 59.86 L141.94 59.51 L142.26 59.17 L142.57 58.82 L142.89 58.48 L143.21 58.14 L143.53 57.79 L143.85 57.45 L144.16 57.11 L144.48 56.76 L144.80 56.42 L145.12 56.08 L145.43 55.75 L145.75 55.42 L146.07 55.10 L146.39 54.78 L146.70 54.47 L147.02 54.16 L147.34 53.87 L147.66 53.58 L147.98 53.30 L148.29 53.04 L148.61 52.78 L148.93 52.54 L149.25 52.31 L149.56 52.09 L149.88 51.88 L150.20 51.68 L150.52 51.48 L150.84 51.29 L151.15 51.10 L151.47 50.92 L151.79 50.74 L152.11 50.57 L152.42 50.39 L152.74 50.21 L153.06 50.03 L153.38 49.85 L153.69 49.67 L154.01 49.49 L154.33 49.32 L154.65 49.14 L154.97 48.97 L155.28 48.80 L155.60 48.63 L155.92 48.46 L156.24 48.30 L156.55 48.14 L156.87 47.99 L157.19 47.83 L157.51 47.69 L157.83 47.54 L158.14 47.41 L158.46 47.27 L158.78 47.15 L159.10 47.02 L159.41 46.90 L159.73 46.79 L160.05 46.68 L160.37 46.57 L160.68 46.47 L161.00 46.37 L161.32 46.28 L161.64 46.19 L161.96 46.10 L162.27 46.01 L162.59 45.93 L162.91 45.85 L163.23 45.77 L163.54 45.69 L163.86 45.62 L164.18 45.54 L164.50 45.47 L164.82 45.40 L165.13 45.33 L165.45 45.26 L165.77 45.20 L166.09 45.14 L166.40 45.08 L166.72 45.02 L167.04 44.96 L167.36 44.91 L167.67 44.86 L167.99 44.81 L168.31 44.76 L168.63 44.71 L168.95 44.67 L169.26 44.63 L169.58 44.59 L169.90 44.55 L170.22 44.51 L170.53 44.48 L170.85 44.44 L171.17 44.41 L171.49 44.38 L171.81 44.35 L172.12 44.33 L172.44 44.30 L172.76 44.28 L173.08 44.25 L173.39 44.23 L173.71 44.21 L174.03 44.19 L174.35 44.17 L174.66 44.15 L174.98 44.14 L175.30 44.12" stroke="#007000" stroke-width="2.50" stroke-dasharray="8.60 4.00" stroke-dashoffset="0.31"/>
</g></g>
<path d="M71.18 250.70 V247.80 M71.18 1.30 V4.20 M84.45 250.70 V247.80 M84.45 1.30 V4.20 M97.73 250.70 V247.80 M97.73 1.30 V4.20 M111.00 250.70 V246.20 M111.00 1.30 V5.80 M124.27 250.70 V247.80 M124.27 1.30 V4.20 M137.55 250.70 V247.80 M137.55 1.30 V4.20 M150.82 250.70 V247.80 M150.82 1.30 V4.20 M164.10 250.70 V247.80 M164.10 1.30 V4.20 M177.37 250.70 V246.20 M177.37 1.30 V5.80 M190.64 250.70 V247.80 M190.64 1.30 V4.20 M203.92 250.70 V247.80 M203.92 1.30 V4.20 M217.19 250.70 V247.80 M217.19 1.30 V4.20 M230.47 250.70 V247.80 M230.47 1.30 V4.20 M243.74 250.70 V246.20 M243.74 1.30 V5.80 M257.01 250.70 V247.80 M257.01 1.30 V4.20 M270.29 250.70 V247.80 M270.29 1.30 V4.20 M283.56 250.70 V247.80 M283.56 1.30 V4.20 M296.84 250.70 V247.80 M296.84 1.30 V4.20 M310.11 250.70 V246.20 M310.11 1.30 V5.80 M323.38 250.70 V247.80 M323.38 1.30 V4.20 M336.66 250.70 V247.80 M336.66 1.30 V4.20 M349.93 250.70 V247.80 M349.93 1.30 V4.20 M363.21 250.70 V247.80 M363.21 1.30 V4.20 M376.48 250.70 V246.20 M376.48 1.30 V5.80 M65.00 238.32 H67.70 M376.70 238.32 H374.00 M65.00 225.86 H69.00 M376.70 225.86 H372.70 M65.00 213.39 H67.70 M376.70 213.39 H374.00 M65.00 200.92 H67.70 M376.70 200.92 H374.00 M65.00 188.45 H67.70 M376.70 188.45 H374.00 M65.00 175.99 H67.70 M376.70 175.99 H374.00 M65.00 163.52 H69.00 M376.70 163.52 H372.70 M65.00 151.05 H67.70 M376.70 151.05 H374.00 M65.00 138.59 H67.70 M376.70 138.59 H374.00 M65.00 126.12 H67.70 M376.70 126.12 H374.00 M65.00 113.65 H67.70 M376.70 113.65 H374.00 M65.00 101.19 H69.00 M376.70 101.19 H372.70 M65.00 88.72 H67.70 M376.70 88.72 H374.00 M65.00 76.25 H67.70 M376.70 76.25 H374.00 M65.00 63.78 H67.70 M376.70 63.78 H374.00 M65.00 51.32 H67.70 M376.70 51.32 H374.00 M65.00 38.85 H69.00 M376.70 38.85 H372.70 M65.00 26.38 H67.70 M376.70 26.38 H374.00 M65.00 13.92 H67.70 M376.70 13.92 H374.00 M65.00 1.45 H67.70 M376.70 1.45 H374.00" stroke="#000" stroke-width="2.00" fill="none"/>
<rect x="65.00" y="1.30" width="311.70" height="249.40" fill="none" stroke="#000" stroke-width="1.90"/>
<text x="60" y="44.9" font-size="16.8" text-anchor="end">0.20</text>
<text x="60" y="107.24" font-size="16.8" text-anchor="end">0.15</text>
<text x="60" y="169.57" font-size="16.8" text-anchor="end">0.10</text>
<text x="60" y="231.91" font-size="16.8" text-anchor="end">0.05</text>
<text x="111" y="269.3" font-size="16.8" text-anchor="middle">1</text>
<text x="177.37" y="269.3" font-size="16.8" text-anchor="middle">2</text>
<text x="243.74" y="269.3" font-size="16.8" text-anchor="middle">3</text>
<text x="310.11" y="269.3" font-size="16.8" text-anchor="middle">4</text>
<text x="376.3" y="269.3" font-size="16.8" text-anchor="middle">5</text>
<text x="160" y="297.5" font-size="17" font-style="italic">ρ</text>
<text x="170.5" y="299.9" font-size="12" font-style="italic">c</text>
<text x="185.6" y="297.28" font-size="17">(</text>
<text x="191.8" y="297.28" font-size="17">10</text>
<text x="212" y="289.87" font-size="11">15</text>
<text x="226.2" y="297.5" font-size="17">g</text>
<text x="244.3" y="297.28" font-size="17">cm</text>
<text x="268.3" y="289.4" font-size="12.5">3</text>
<text x="275.3" y="297.28" font-size="17">)</text>
<path d="M238.0 300.7 L242.4 285.0" stroke="#000" stroke-width="1.2" fill="none"/>
<g transform="translate(15.5,154.9) rotate(-90)"><text x="-0.5" y="0" font-size="17.6" font-style="italic">m</text><text x="22.6" y="0" font-size="17.2">M</text><text x="39.1" y="0" font-size="17.2">−</text><text x="49.4" y="0" font-size="17.2">1</text><path d="M-0.2 -13.75 H18.1" stroke="#000" stroke-width="1.3" fill="none"/><path d="M16.7 2.3 L20.8 -11.9" stroke="#000" stroke-width="1.2" fill="none"/></g>
</svg></body></html>
